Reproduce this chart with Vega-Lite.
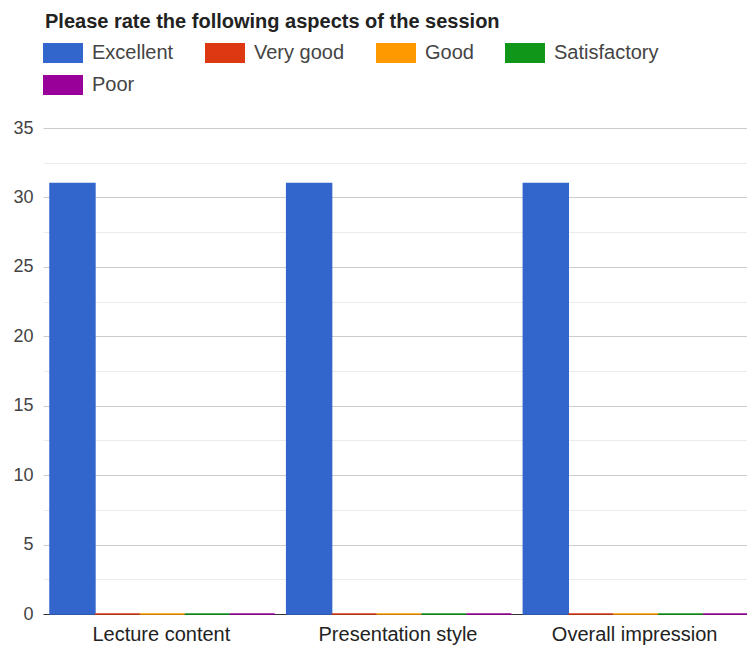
{
  "$schema": "https://vega.github.io/schema/vega-lite/v6.json",
  "autosize": "none",
  "width": 704,
  "height": 486,
  "padding": {"left": 43, "top": 128, "right": 0, "bottom": 36},
  "background": "white",
  "title": {
    "text": "Please rate the following aspects of the session",
    "anchor": "start",
    "frame": "group",
    "font": "Liberation Sans",
    "fontSize": 20,
    "fontWeight": "bold",
    "color": "#222222",
    "offset": 1,
    "dx": 2
  },
  "data": {
    "values": [
      {"aspect": "Lecture content", "rating": "Excellent", "count": 31},
      {"aspect": "Lecture content", "rating": "Very good", "count": 0},
      {"aspect": "Lecture content", "rating": "Good", "count": 0},
      {"aspect": "Lecture content", "rating": "Satisfactory", "count": 0},
      {"aspect": "Lecture content", "rating": "Poor", "count": 0},
      {"aspect": "Presentation style", "rating": "Excellent", "count": 31},
      {"aspect": "Presentation style", "rating": "Very good", "count": 0},
      {"aspect": "Presentation style", "rating": "Good", "count": 0},
      {"aspect": "Presentation style", "rating": "Satisfactory", "count": 0},
      {"aspect": "Presentation style", "rating": "Poor", "count": 0},
      {"aspect": "Overall impression", "rating": "Excellent", "count": 31},
      {"aspect": "Overall impression", "rating": "Very good", "count": 0},
      {"aspect": "Overall impression", "rating": "Good", "count": 0},
      {"aspect": "Overall impression", "rating": "Satisfactory", "count": 0},
      {"aspect": "Overall impression", "rating": "Poor", "count": 0}
    ]
  },
  "mark": {"type": "bar", "strokeWidth": 1.5},
  "encoding": {
    "x": {
      "field": "aspect", "type": "nominal", "sort": null, "title": null,
      "scale": {"range": [0, 712], "paddingInner": 0.0507, "paddingOuter": 0.0296},
      "axis": {
        "labelAngle": 0, "labelFont": "Liberation Sans", "labelFontSize": 20,
        "labelColor": "#222222", "labelPadding": 10, "labelOffset": -1, "ticks": false,
        "domainColor": "#333333", "domainWidth": 1
      }
    },
    "xOffset": {
      "field": "rating", "type": "nominal",
      "sort": ["Excellent", "Very good", "Good", "Satisfactory", "Poor"],
      "scale": {"paddingInner": 0, "paddingOuter": 0}
    },
    "y": {
      "field": "count", "type": "quantitative", "title": null,
      "scale": {"domain": [0, 35], "nice": false},
      "axis": {
        "values": [0, 2.5, 5, 7.5, 10, 12.5, 15, 17.5, 20, 22.5, 25, 27.5, 30, 32.5, 35],
        "labelExpr": "datum.value % 5 === 0 ? datum.label : ''",
        "labelFont": "Liberation Sans", "labelFontSize": 18, "labelColor": "#444444",
        "labelPadding": 10, "ticks": false, "domain": false,
        "gridColor": {"condition": {"test": "datum.value % 5 !== 0", "value": "#ebebeb"}, "value": "#cccccc"}
      }
    },
    "color": {
      "field": "rating", "type": "nominal",
      "scale": {
        "domain": ["Excellent", "Very good", "Good", "Satisfactory", "Poor"],
        "range": ["#3366cc", "#dc3912", "#ff9900", "#109618", "#990099"]
      },
      "legend": {
        "title": null,
        "orient": "none",
        "legendX": 0,
        "legendY": -95,
        "direction": "horizontal",
        "columns": 4,
        "columnPadding": 31,
        "rowPadding": 2,
        "symbolType": "M-1,-0.5H1V0.5H-1Z",
        "symbolSize": 1600,
        "symbolStrokeWidth": 0,
        "labelFont": "Liberation Sans",
        "labelFontSize": 20,
        "labelColor": "#444444",
        "labelOffset": 9
      }
    },
    "stroke": {
      "field": "rating", "type": "nominal",
      "scale": {
        "domain": ["Excellent", "Very good", "Good", "Satisfactory", "Poor"],
        "range": ["#3366cc", "#dc3912", "#ff9900", "#109618", "#990099"]
      },
      "legend": null
    }
  },
  "config": {
    "view": {"stroke": null}
  }
}
